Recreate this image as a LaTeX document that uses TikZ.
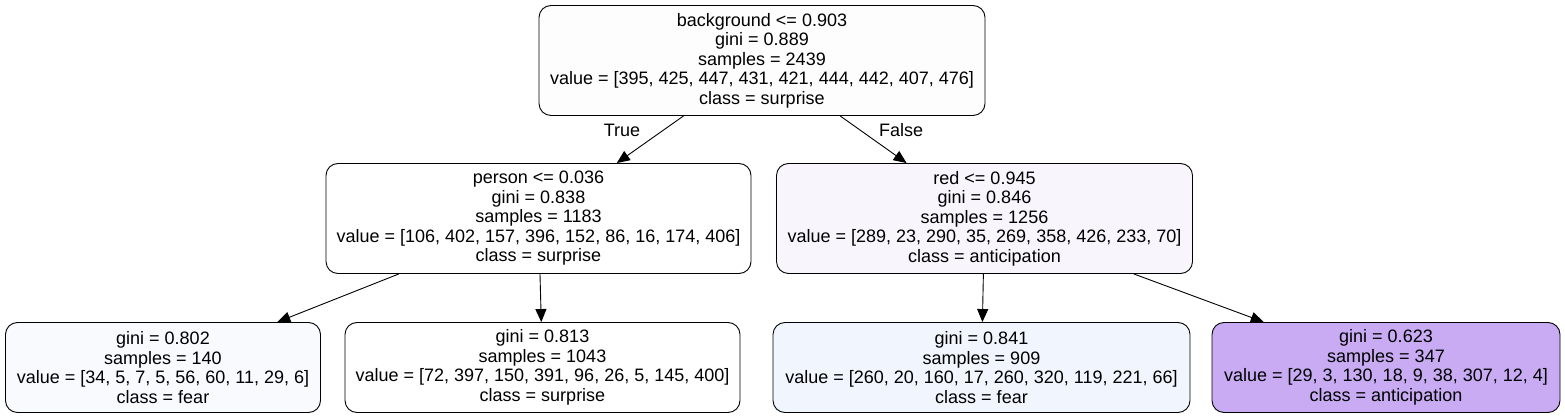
\documentclass[tikz,border=0pt]{standalone}
\usepackage{fontspec}
\setmainfont{Liberation Sans}
\usetikzlibrary{arrows.meta}
\definecolor{rootfill}{HTML}{FDFDFD}
\definecolor{redfill}{HTML}{F8F5FD}
\definecolor{fearfill}{HTML}{F8FAFE}
\definecolor{fearbfill}{HTML}{F1F5FD}
\definecolor{anticfill}{HTML}{C8ABF3}
\begin{document}
\begin{tikzpicture}[x=1pt,y=-1pt,
  tnode/.style={draw,rounded corners=12pt,align=center,inner sep=0pt,
    font=\fontsize{18}{19.5}\selectfont,line width=0.9pt},
  inner/.style={tnode,minimum height=110pt},
  leaf/.style={tnode,minimum height=90pt},
  edge/.style={-{Triangle[length=13pt,width=11pt]},line width=0.9pt},
  elab/.style={font=\fontsize{18}{19.5}\selectfont}]

\useasboundingbox (0,0) rectangle (1565,419);

%root
\node[inner,fill=rootfill,minimum width=446pt] (root) at (762,60.5)
  {background <= 0.903\\gini = 0.889\\samples = 2439\\value = [395, 425, 447, 431, 421, 444, 442, 407, 476]\\class = surprise};

%level 1
\node[inner,fill=white,minimum width=425pt] (person) at (538.5,218.5)
  {person <= 0.036\\gini = 0.838\\samples = 1183\\value = [106, 402, 157, 396, 152, 86, 16, 174, 406]\\class = surprise};
\node[inner,fill=redfill,minimum width=416pt] (red) at (984.5,218.5)
  {red <= 0.945\\gini = 0.846\\samples = 1256\\value = [289, 23, 290, 35, 269, 358, 426, 233, 70]\\class = anticipation};

%leaves
\node[leaf,fill=fearfill,minimum width=315pt] (fearA) at (163,367.5)
  {gini = 0.802\\samples = 140\\value = [34, 5, 7, 5, 56, 60, 11, 29, 6]\\class = fear};
\node[leaf,fill=white,minimum width=395pt] (surprise) at (542.5,367.5)
  {gini = 0.813\\samples = 1043\\value = [72, 397, 150, 391, 96, 26, 5, 145, 400]\\class = surprise};
\node[leaf,fill=fearbfill,minimum width=417pt] (fearB) at (981.5,367.5)
  {gini = 0.841\\samples = 909\\value = [260, 20, 160, 17, 260, 320, 119, 221, 66]\\class = fear};
\node[leaf,fill=anticfill,minimum width=348pt] (antic) at (1386,367.5)
  {gini = 0.623\\samples = 347\\value = [29, 3, 130, 18, 9, 38, 307, 12, 4]\\class = anticipation};

%edges
\draw[edge] (root) -- (person);
\draw[edge] (root) -- (red);
\draw[edge] (person) -- (fearA);
\draw[edge] (person) -- (surprise);
\draw[edge] (red) -- (fearB);
\draw[edge] (red) -- (antic);

\node[elab] (tlab) at (622,130) {True};
\node[elab] (flab) at (901,130) {False};

\end{tikzpicture}
\end{document}
